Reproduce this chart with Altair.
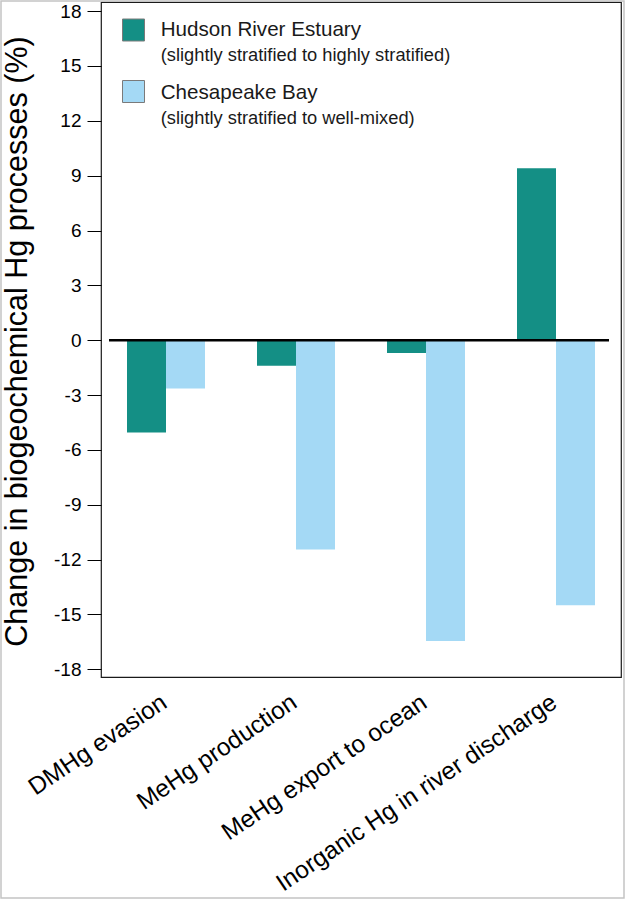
import altair as alt
import pandas as pd

processes = ["DMHg evasion", "MeHg production", "MeHg export to ocean",
             "Inorganic Hg in river discharge"]
estuaries = ["Hudson River Estuary", "Chesapeake Bay"]
subtitles = ["(slightly stratified to highly stratified)",
             "(slightly stratified to well-mixed)"]
hudson = [-5.05, -1.39, -0.7, 9.4]
chesapeake = [-2.64, -11.45, -16.45, -14.5]
colors = ["#148F85", "#A4D9F5"]
y_ticks = list(range(-18, 19, 3))

FONT = "Liberation Sans"

rows = []
for p, h, c in zip(processes, hudson, chesapeake):
    rows.append({"process": p, "estuary": estuaries[0], "change": h})
    rows.append({"process": p, "estuary": estuaries[1], "change": c})
df = pd.DataFrame(rows)

color_scale = alt.Scale(domain=estuaries, range=colors)
y_scale = alt.Scale(domain=[-18.42, 18.5], nice=False, zero=False)

bars = alt.Chart(df).mark_bar().encode(
    x=alt.X("process:N", sort=processes,
            scale=alt.Scale(paddingInner=0.4, paddingOuter=0.2),
            axis=alt.Axis(title=None, labelAngle=-34, labelFontSize=24.5,
                          labelFont=FONT, labelAlign="right",
                          labelBaseline="top", labelPadding=13,
                          labelOffset=-8,
                          ticks=False, domain=False, labelColor="black",
                          labelLimit=600)),
    xOffset=alt.XOffset("estuary:N", sort=estuaries,
                        scale=alt.Scale(paddingInner=0, paddingOuter=0)),
    y=alt.Y("change:Q", scale=y_scale,
            axis=alt.Axis(values=y_ticks, tickSize=14, tickColor="black",
                          tickWidth=1, domain=False, grid=False,
                          labelFontSize=19, labelFont=FONT,
                          labelColor="black", labelPadding=6,
                          labelExpr="'' + datum.value",
                          title="Change in biogeochemical Hg processes (%)",
                          titleFontSize=30.5, titleFont=FONT,
                          titleFontWeight="normal", titleColor="black",
                          titleX=-75, titleY=339, titleAngle=270,
                          titleAlign="center", titleBaseline="alphabetic")),
    color=alt.Color("estuary:N", scale=color_scale, legend=None),
)

zero = alt.Chart(pd.DataFrame({"v": [0]})).mark_rule(
    color="black", strokeWidth=2.5
).encode(y=alt.Y("v:Q", scale=y_scale), x=alt.value(8), x2=alt.value(508))

border = alt.Chart(pd.DataFrame({"v": [0]})).mark_rect(
    filled=False, stroke="#c4c4c4", strokeWidth=1.5
).encode(x=alt.value(-100), x2=alt.value(523),
         y=alt.value(-1), y2=alt.value(896))

layers = [bars, zero, border]
for i, (name, sub) in enumerate(zip(estuaries, subtitles)):
    ldf = pd.DataFrame({"estuary": [name], "sub": [sub]})
    base = alt.Chart(ldf)
    layers.append(base.mark_square(size=484, stroke="#7a7a7a", strokeWidth=1,
                                   opacity=1).encode(
        x=alt.value(32.5), y=alt.value(28 + 61.5 * i),
        color=alt.Color("estuary:N", scale=color_scale, legend=None)))
    layers.append(base.mark_text(align="left", baseline="alphabetic",
                                 fontSize=20.6, font=FONT, color="#1a1a1a").encode(
        x=alt.value(59.7), y=alt.value(34 + 63 * i), text="estuary:N"))
    layers.append(base.mark_text(align="left", baseline="alphabetic",
                                 fontSize=18.3, font=FONT, color="#1a1a1a").encode(
        x=alt.value(59.7), y=alt.value(59 + 63 * i), text="sub:N"))

chart = alt.layer(*layers).properties(
    width=520, height=675,
    autosize=alt.AutoSizeParams(type="none"),
    padding={"left": 101, "top": 2, "right": 5, "bottom": 223},
    background="white",
).configure_view(stroke="#1a1a1a", strokeWidth=1.2)

chart.save("out.html", embed_options={"renderer": "svg", "actions": False})
